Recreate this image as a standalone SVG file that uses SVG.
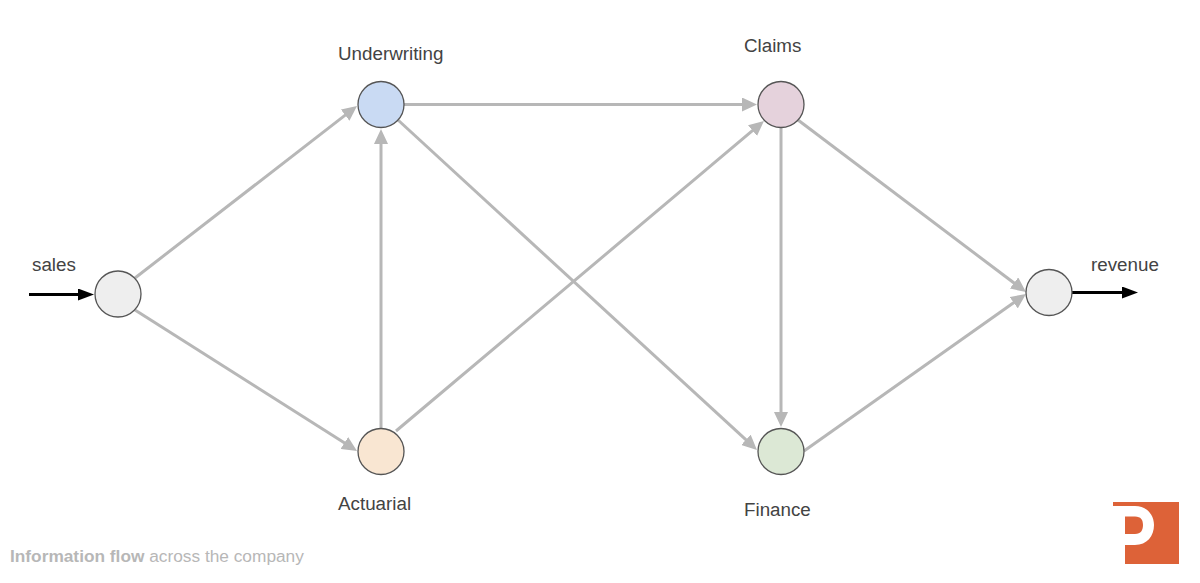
<svg xmlns="http://www.w3.org/2000/svg" width="1200" height="583" viewBox="0 0 1200 583">
<style>
text{font-family:"Liberation Sans",Arial,sans-serif;font-size:18.8px;fill:#434343}
.n{stroke:#555;stroke-width:1.3}
.e{stroke:#b7b7b7;stroke-width:3;fill:none;marker-end:url(#g)}
.k{stroke:#000;stroke-width:3;fill:none;marker-end:url(#b)}
</style>
<defs>
<marker id="g" markerUnits="userSpaceOnUse" markerWidth="16" markerHeight="14" refX="5" refY="7" orient="auto"><path d="M0 0L15 7L0 14Z" fill="#b7b7b7"/></marker>
<marker id="b" markerUnits="userSpaceOnUse" markerWidth="17" markerHeight="14" refX="6" refY="6" orient="auto"><path d="M0 0L16 6L0 12Z" fill="#000"/></marker>
</defs>
<rect width="1200" height="583" fill="#fff"/>
<g id="connectors">
<path class="e" d="M135 278L349.100 112.100"/>
<path class="e" d="M135 310L348.600 445.600"/>
<path class="e" d="M381 428V139"/>
<path class="e" d="M404 104.500H747"/>
<path class="e" d="M396 431L756.300 127.400"/>
<path class="e" d="M398 120L749.600 443.200"/>
<path class="e" d="M781 128V417"/>
<path class="e" d="M798 120L1018 286"/>
<path class="e" d="M804 451L1017.800 299.800"/>
<path class="k" d="M29 294.500H84"/>
<path class="k" d="M1072 292.500H1128"/>
</g>
<g id="start"><circle class="n" cx="118" cy="294" r="23" fill="#eeeeee"/><text x="32" y="271">sales</text></g>
<g id="underwriting"><circle class="n" cx="381" cy="104.500" r="23" fill="#c9daf3"/><text x="338" y="60">Underwriting</text></g>
<g id="actuarial"><circle class="n" cx="381" cy="451.500" r="23" fill="#f9e6d2"/><text x="338" y="510">Actuarial</text></g>
<g id="claims"><circle class="n" cx="781" cy="104.500" r="23" fill="#e5d2dc"/><text x="744" y="52">Claims</text></g>
<g id="finance"><circle class="n" cx="781" cy="451.500" r="23" fill="#dce8d5"/><text x="744" y="516">Finance</text></g>
<g id="end"><circle class="n" cx="1049" cy="292.500" r="23" fill="#eeeeee"/><text x="1091" y="271">revenue</text></g>
<text x="10" y="562" style="font-size:17.300px;fill:#b7b7b7"><tspan font-weight="bold">Information flow</tspan> across the company</text>
<g id="logo">
<path fill="#dd6238" fill-rule="evenodd" d="M1113 502H1179V564H1125V545H1135C1147 545 1154 536 1154 525C1154 514 1146 506 1135 506H1113ZM1125 516.500V534H1135C1141 534 1143 530 1143 525C1143 520 1141 516.500 1135 516.500Z"/>
</g>
</svg>
